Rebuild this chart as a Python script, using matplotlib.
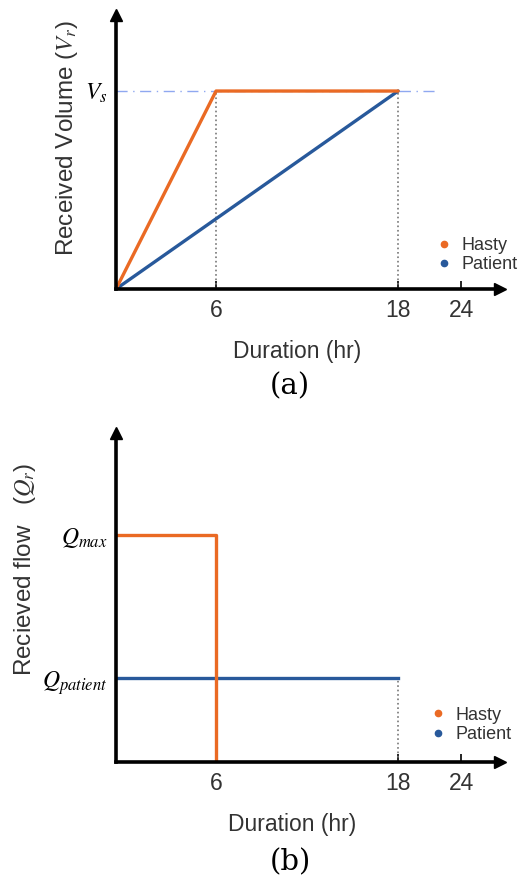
import numpy as np
import matplotlib
matplotlib.use("Agg")
import matplotlib.pyplot as plt
from matplotlib.lines import Line2D

plt.rcParams['font.family'] = ['Liberation Sans', 'DejaVu Sans']
plt.rcParams['mathtext.fontset'] = 'stix'

# data (schematic: times in hours, volume/flow normalised)
hasty_t = [0, 6, 18]
hasty_v = [0, 1, 1]
patient_t = [0, 18]
patient_v = [0, 1]

flow_hasty_t = [0, 6, 6]
flow_hasty_q = [1, 1, 0]
flow_patient_t = [0, 18]
flow_patient_q = [0.37, 0.37]

x_ticks = [6, 18, 24]
c_hasty = '#EA6A24'
c_patient = '#28599B'
txt = '#333333'

# the time axis in the figure is not linear, map hours to axis position
knots_h = [0, 6, 18, 24, 30]
knots_p = [0, 100, 282, 345, 408]
fwd = lambda h: np.interp(h, knots_h, knots_p)
inv = lambda p: np.interp(p, knots_p, knots_h)

fig = plt.figure(figsize=(5.27, 8.82), dpi=100)
ax1 = fig.add_axes([116/527, 1-289/882, 384/527, 274/882])
ax2 = fig.add_axes([116/527, 1-762/882, 384/527, 329/882])


def style(ax):
    ax.set_xscale('function', functions=(fwd, inv))
    ax.set_xlim(0, 27.7)
    for s in ['top', 'right']:
        ax.spines[s].set_visible(False)
    for s in ['left', 'bottom']:
        ax.spines[s].set_linewidth(2.6)
        ax.spines[s].set_color('black')
    ax.plot(1, 0, '>', color='black', ms=8, transform=ax.transAxes, clip_on=False)
    ax.plot(0, 1, '^', color='black', ms=8, transform=ax.transAxes, clip_on=False)
    ax.set_xticks(x_ticks)
    ax.set_xticklabels([str(t) for t in x_ticks])
    ax.tick_params(axis='x', direction='in', length=6, width=1.2, pad=7,
                   labelsize=16.5, labelcolor=txt)
    ax.tick_params(axis='y', length=0, pad=6, labelsize=17)
    ax.minorticks_off()
    ax.set_xlabel('Duration (hr)', fontsize=16.5, color=txt)
    handles = [Line2D([], [], ls='', marker='o', ms=4.5, color=c_hasty),
               Line2D([], [], ls='', marker='o', ms=4.5, color=c_patient)]
    leg = ax.legend(handles, ['Hasty', 'Patient'], frameon=False, fontsize=13,
                    handlelength=0.6, handletextpad=0.7, labelspacing=0.12,
                    loc='upper left', borderaxespad=0)
    for t in leg.get_texts():
        t.set_color(txt)
    return leg


# (a) received volume
leg1 = style(ax1)
ax1.set_ylim(0, 1.384)
ax1.plot([0, 21.5], [1, 1], color='#8FA8F0', lw=1.0, ls=(0, (8, 4, 1, 4)))
ax1.plot([6, 6], [0, 1], color='#777777', lw=1.2, ls=':')
ax1.plot([18, 18], [0, 1], color='#777777', lw=1.2, ls=':')
ax1.plot(patient_t, patient_v, color=c_patient, lw=2.4, solid_capstyle='round')
ax1.plot(hasty_t, hasty_v, color=c_hasty, lw=2.4, solid_capstyle='round')
ax1.set_yticks([1])
ax1.set_yticklabels(['$V_s$'])
ax1.set_ylabel('Received Volume ($V_r$)', fontsize=17.5, color=txt)
ax1.yaxis.set_label_coords(-0.094, 0.55)
ax1.xaxis.set_label_coords(0.471, -0.185)
leg1.set_bbox_to_anchor((0.82, 0.215), transform=ax1.transAxes)

# (b) received flow
leg2 = style(ax2)
ax2.set_ylim(0, 1.449)
ax2.plot([18, 18], [0, 0.37], color='#777777', lw=1.2, ls=':')
ax2.plot(flow_patient_t, flow_patient_q, color=c_patient, lw=2.4)
ax2.plot(flow_hasty_t, flow_hasty_q, color=c_hasty, lw=2.4)
ax2.set_yticks([1, 0.37])
ax2.set_yticklabels(['$Q_{max}$', '$Q_{patient}$'])
ax2.set_ylabel('Recieved flow   ($Q_r$)', fontsize=17.5, color=txt)
ax2.yaxis.set_label_coords(-0.203, 0.584)
ax2.xaxis.set_label_coords(0.458, -0.155)
leg2.set_bbox_to_anchor((0.805, 0.19), transform=ax2.transAxes)

fig.text(290/527, 1-386/882, '(a)', ha='center', va='center',
         fontsize=21, family='DejaVu Serif', color='black')
fig.text(290/527, 1-862/882, '(b)', ha='center', va='center',
         fontsize=21, family='DejaVu Serif', color='black')

fig.savefig('out.png', dpi=100)
